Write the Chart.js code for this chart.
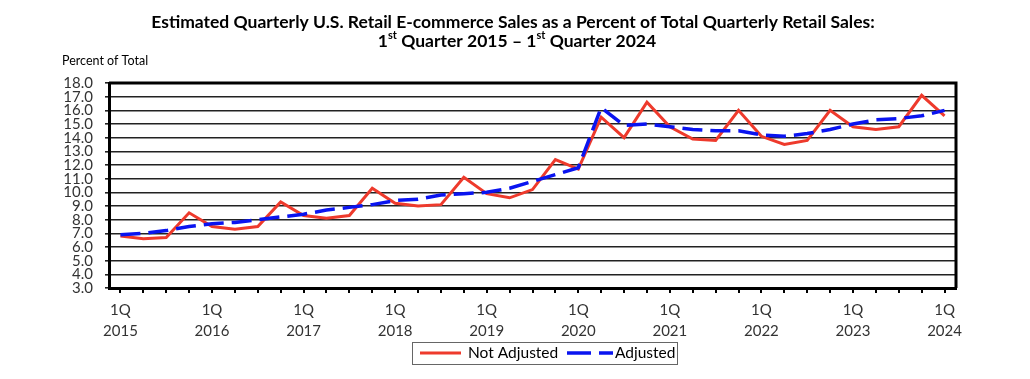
<!DOCTYPE html>
<html><head><meta charset="utf-8">
<script src="https://cdn.jsdelivr.net/npm/chart.js@4/dist/chart.umd.min.js"></script>
<style>html,body{margin:0;padding:0;background:#fff;}canvas{display:block;}</style>
</head><body>
<canvas id="c" width="1030" height="379"></canvas>
<script>
const quarters = [
  '2015 Q1','2015 Q2','2015 Q3','2015 Q4',
  '2016 Q1','2016 Q2','2016 Q3','2016 Q4',
  '2017 Q1','2017 Q2','2017 Q3','2017 Q4',
  '2018 Q1','2018 Q2','2018 Q3','2018 Q4',
  '2019 Q1','2019 Q2','2019 Q3','2019 Q4',
  '2020 Q1','2020 Q2','2020 Q3','2020 Q4',
  '2021 Q1','2021 Q2','2021 Q3','2021 Q4',
  '2022 Q1','2022 Q2','2022 Q3','2022 Q4',
  '2023 Q1','2023 Q2','2023 Q3','2023 Q4',
  '2024 Q1'
];
const notAdjusted = [
  6.8, 6.6, 6.7, 8.5,
  7.5, 7.3, 7.5, 9.3,
  8.3, 8.1, 8.3, 10.3,
  9.2, 9.0, 9.1, 11.1,
  9.9, 9.6, 10.2, 12.4,
  11.7, 15.5, 14.0, 16.6,
  14.8, 13.9, 13.8, 16.0,
  14.1, 13.5, 13.8, 16.0,
  14.8, 14.6, 14.8, 17.1,
  15.6
];
const adjusted = [
  6.9, 7.0, 7.2, 7.5,
  7.7, 7.8, 8.0, 8.2,
  8.4, 8.7, 8.9, 9.1,
  9.4, 9.5, 9.8, 9.9,
  10.0, 10.3, 10.8, 11.3,
  11.8, 16.2, 14.9, 15.0,
  14.8, 14.6, 14.5, 14.5,
  14.2, 14.1, 14.3, 14.6,
  15.0, 15.3, 15.4, 15.6,
  16.0
];
const tickQuarterLabel = '1Q';
const yAxisMin = 3;
const yAxisMax = 18;
const yAxisStep = 1;
const seriesNames = ['Not Adjusted', 'Adjusted'];
const titleLine1 = 'Estimated Quarterly U.S. Retail E-commerce Sales as a Percent of Total Quarterly Retail Sales:';
const titleLine2 = [['1',false],['st',true],[' Quarter 2015 \u2013 1',false],['st',true],[' Quarter 2024',false]];
const yAxisTitle = 'Percent of Total';

const FONT = 'Lato, "Open Sans", sans-serif';
const RED = '#ee3a2c';
const BLUE = '#0a14f0';

const decor = {
  id: 'decor',
  afterDraw(chart) {
    const ctx = chart.ctx;
    const a = chart.chartArea;
    ctx.save();
    ctx.strokeStyle = '#000';
    ctx.lineWidth = 3;
    ctx.beginPath();
    ctx.moveTo(a.left, a.top);
    ctx.lineTo(a.right, a.top);
    ctx.lineTo(a.right, a.bottom);
    ctx.stroke();
    ctx.fillStyle = '#000';
    ctx.textBaseline = 'middle';
    ctx.textAlign = 'left';
    ctx.font = 'bold 17.5px ' + FONT;
    const w1 = ctx.measureText(titleLine1).width;
    ctx.fillText(titleLine1, 513 - w1 / 2, 22.5);
    let total = 0;
    titleLine2.forEach(([t, sup]) => {
      ctx.font = (sup ? 'bold 11px ' : 'bold 17.5px ') + FONT;
      total += ctx.measureText(t).width;
    });
    let x = 517 - total / 2;
    titleLine2.forEach(([t, sup]) => {
      ctx.font = (sup ? 'bold 11px ' : 'bold 17.5px ') + FONT;
      ctx.fillText(t, x, sup ? 35.5 : 41);
      x += ctx.measureText(t).width;
    });
    ctx.font = '12.5px ' + FONT;
    ctx.fillStyle = '#000';
    ctx.fillText(yAxisTitle, 62, 61);
    ctx.strokeStyle = '#666';
    ctx.lineWidth = 1;
    ctx.strokeRect(412.5, 342.5, 265, 22);
    const ly = 353;
    ctx.lineWidth = 3;
    ctx.strokeStyle = RED;
    ctx.beginPath(); ctx.moveTo(420, ly); ctx.lineTo(461, ly); ctx.stroke();
    ctx.strokeStyle = BLUE;
    ctx.lineWidth = 3.5;
    ctx.setLineDash([24, 8]);
    ctx.beginPath(); ctx.moveTo(567, ly); ctx.lineTo(613, ly); ctx.stroke();
    ctx.setLineDash([]);
    ctx.font = '15.5px ' + FONT;
    ctx.fillStyle = '#000';
    ctx.fillText(seriesNames[0], 468, ly);
    ctx.fillText(seriesNames[1], 615, ly);
    ctx.restore();
  }
};

new Chart(document.getElementById('c'), {
  type: 'line',
  data: {
    labels: quarters,
    datasets: [
      { label: seriesNames[0], data: notAdjusted, borderColor: RED, backgroundColor: RED,
        borderWidth: 3, pointRadius: 0, tension: 0, order: 1 },
      { label: seriesNames[1], data: adjusted, borderColor: BLUE, backgroundColor: BLUE,
        borderWidth: 3.5, borderDash: [20, 8], pointRadius: 0, tension: 0, order: 0 }
    ]
  },
  options: {
    responsive: false,
    animation: false,
    layout: { padding: { top: 83, right: 74, left: 0, bottom: 0 } },
    plugins: { legend: { display: false }, title: { display: false }, tooltip: { enabled: false } },
    scales: {
      x: {
        offset: true,
        afterFit(s) { s.height = 91; },
        grid: { drawOnChartArea: false, drawTicks: true, tickLength: 5, color: '#000', lineWidth: 2, offset: false },
        border: { display: true, color: '#000', width: 3 },
        ticks: {
          autoSkip: false, maxRotation: 0, minRotation: 0, padding: 7,
          color: '#333', font: { family: FONT, size: 15, lineHeight: 1.38 },
          callback(v, i) {
            const q = quarters[i];
            return q.endsWith('Q1') ? [tickQuarterLabel, q.slice(0, 4)] : '';
          }
        }
      },
      y: {
        min: yAxisMin, max: yAxisMax,
        afterFit(s) { s.width = 109; },
        grid: { color: '#222', lineWidth: 1.6, drawTicks: true, tickLength: 4 },
        border: { display: true, color: '#000', width: 3 },
        ticks: {
          stepSize: yAxisStep, autoSkip: false, padding: 12,
          color: '#333', font: { family: FONT, size: 15 },
          callback(v) { return Number(v).toFixed(1); }
        }
      }
    }
  },
  plugins: [decor]
});
</script>
</body></html>
